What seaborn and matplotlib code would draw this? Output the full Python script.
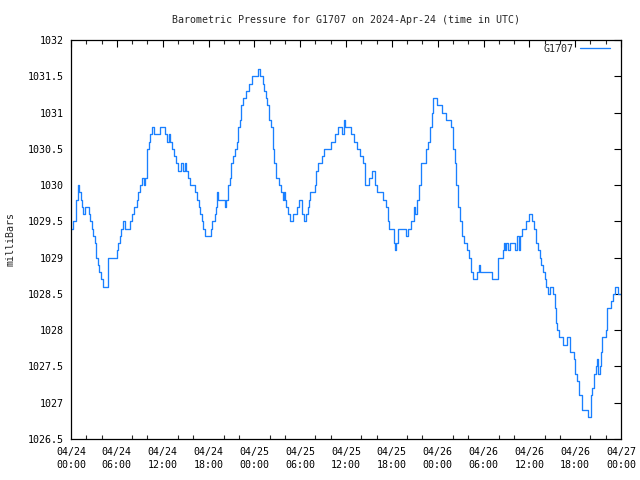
import matplotlib
matplotlib.use("Agg")
import matplotlib.pyplot as plt
import seaborn as sns
import pandas as pd
from matplotlib.ticker import MultipleLocator, FixedLocator

# hours since 2024-04-24 00:00 UTC
hours = [0.0, 0.3, 0.6, 0.96, 1.1, 1.27, 1.45, 1.6, 1.8, 2.3, 2.5, 2.7, 2.9, 3.1, 3.3, 3.5, 3.7, 3.9,
         4.2, 4.8, 4.9, 6.0, 6.2, 6.4, 6.6, 6.85, 7.1, 7.7, 8.0, 8.3, 8.6, 8.75, 9.0, 9.3, 9.6, 9.75,
         9.9, 10.0, 10.2, 10.35, 10.65, 10.8, 11.7, 12.3, 12.6, 12.8, 13.0, 13.2, 13.5, 13.8, 14.05,
         14.4, 14.6, 14.9, 15.1, 15.3, 15.6, 16.2, 16.5, 16.7, 16.9, 17.1, 17.3, 17.6, 18.3, 18.5,
         18.8, 19.0, 19.1, 19.25, 20.1, 20.3, 20.6, 20.8, 21.0, 21.25, 21.5, 21.7, 21.9, 22.1, 22.3,
         22.55, 22.9, 23.3, 23.7, 24.5, 24.8, 25.1, 25.3, 25.5, 25.7, 25.95, 26.2, 26.4, 26.5, 26.6,
         26.8, 26.9, 27.2, 27.45, 27.7, 27.9, 28.05, 28.2, 28.4, 28.7, 29.1, 29.6, 29.9, 30.3, 30.5,
         30.8, 31.0, 31.15, 31.35, 31.9, 32.1, 32.35, 32.9, 33.1, 34.1, 34.5, 34.9, 35.5, 35.7, 35.9,
         36.6, 37.1, 37.5, 37.8, 38.2, 38.45, 38.55, 39.0, 39.4, 39.85, 40.05, 40.9, 41.2, 41.45,
         41.65, 42.3, 42.45, 42.6, 42.8, 43.8, 44.1, 44.5, 44.9, 45.05, 45.3, 45.55, 45.8, 46.5,
         46.7, 46.95, 47.2, 47.4, 47.9, 48.6, 49.1, 49.7, 49.95, 50.25, 50.45, 50.7, 50.95, 51.2,
         51.5, 51.8, 52.1, 52.3, 52.6, 53.1, 53.4, 53.55, 55.1, 55.95, 56.5, 56.65, 56.85, 57.0,
         57.2, 57.5, 58.1, 58.45, 58.65, 58.8, 59.1, 59.5, 59.9, 60.4, 60.6, 60.85, 61.1, 61.35,
         61.5, 61.75, 62.0, 62.2, 62.5, 62.7, 63.15, 63.3, 63.45, 63.6, 63.85, 64.4, 64.95, 65.35,
         65.85, 66.0, 66.2, 66.45, 66.85, 67.65, 68.1, 68.25, 68.45, 68.7, 68.9, 69.05, 69.25, 69.4,
         69.55, 70.0, 70.2, 70.75, 70.95, 71.25, 71.55, 72.0]
pressure = [1029.4, 1029.5, 1029.8, 1030.0, 1029.9, 1029.8, 1029.7, 1029.6, 1029.7, 1029.6, 1029.5,
            1029.4, 1029.3, 1029.2, 1029.0, 1028.9, 1028.8, 1028.7, 1028.6, 1028.8, 1029.0, 1029.1,
            1029.2, 1029.3, 1029.4, 1029.5, 1029.4, 1029.5, 1029.6, 1029.7, 1029.8, 1029.9, 1030.0,
            1030.1, 1030.0, 1030.1, 1030.3, 1030.5, 1030.6, 1030.7, 1030.8, 1030.7, 1030.8, 1030.7,
            1030.6, 1030.7, 1030.6, 1030.5, 1030.4, 1030.3, 1030.2, 1030.3, 1030.2, 1030.3, 1030.2,
            1030.1, 1030.0, 1029.9, 1029.8, 1029.7, 1029.6, 1029.5, 1029.4, 1029.3, 1029.4, 1029.5,
            1029.6, 1029.7, 1029.9, 1029.8, 1029.7, 1029.8, 1030.0, 1030.1, 1030.3, 1030.4, 1030.5,
            1030.6, 1030.8, 1030.9, 1031.1, 1031.2, 1031.3, 1031.4, 1031.5, 1031.6, 1031.5, 1031.4,
            1031.3, 1031.2, 1031.1, 1030.9, 1030.8, 1030.6, 1030.5, 1030.3, 1030.2, 1030.1, 1030.0,
            1029.9, 1029.8, 1029.9, 1029.8, 1029.7, 1029.6, 1029.5, 1029.6, 1029.7, 1029.8, 1029.6,
            1029.5, 1029.6, 1029.7, 1029.8, 1029.9, 1030.0, 1030.2, 1030.3, 1030.4, 1030.5, 1030.6,
            1030.7, 1030.8, 1030.7, 1030.9, 1030.8, 1030.7, 1030.6, 1030.5, 1030.4, 1030.3, 1030.2,
            1030.0, 1030.1, 1030.2, 1030.0, 1029.9, 1029.8, 1029.7, 1029.5, 1029.4, 1029.2, 1029.1,
            1029.2, 1029.4, 1029.3, 1029.4, 1029.5, 1029.7, 1029.6, 1029.8, 1030.0, 1030.3, 1030.5,
            1030.6, 1030.8, 1031.0, 1031.2, 1031.1, 1031.0, 1030.9, 1030.8, 1030.5, 1030.3, 1030.0,
            1029.7, 1029.5, 1029.3, 1029.2, 1029.1, 1029.0, 1028.8, 1028.7, 1028.8, 1028.9, 1028.8,
            1028.7, 1029.0, 1029.1, 1029.2, 1029.1, 1029.2, 1029.1, 1029.2, 1029.1, 1029.3, 1029.1,
            1029.3, 1029.4, 1029.5, 1029.6, 1029.5, 1029.4, 1029.2, 1029.1, 1029.0, 1028.9, 1028.8,
            1028.7, 1028.6, 1028.5, 1028.6, 1028.5, 1028.3, 1028.1, 1028.0, 1027.9, 1027.8, 1027.9,
            1027.7, 1027.6, 1027.4, 1027.3, 1027.1, 1026.9, 1026.8, 1027.1, 1027.2, 1027.4, 1027.5,
            1027.6, 1027.4, 1027.5, 1027.7, 1027.9, 1028.0, 1028.3, 1028.4, 1028.5, 1028.6, 1028.5,
            1028.5]

x_tick_hours = [0, 6, 12, 18, 24, 30, 36, 42, 48, 54, 60, 66, 72]
x_tick_labels = ["04/24\n00:00", "04/24\n06:00", "04/24\n12:00", "04/24\n18:00",
                 "04/25\n00:00", "04/25\n06:00", "04/25\n12:00", "04/25\n18:00",
                 "04/26\n00:00", "04/26\n06:00", "04/26\n12:00", "04/26\n18:00",
                 "04/27\n00:00"]
y_ticks = [1026.5, 1027, 1027.5, 1028, 1028.5, 1029, 1029.5, 1030, 1030.5, 1031, 1031.5, 1032]
y_tick_labels = ["1026.5", "1027", "1027.5", "1028", "1028.5", "1029", "1029.5", "1030",
                 "1030.5", "1031", "1031.5", "1032"]

df = pd.DataFrame({"hours": hours, "pressure": pressure})

sns.set_style("white")
plt.rcParams["font.family"] = ["DejaVu Sans Mono"]

fig = plt.figure(figsize=(6.4, 4.8), dpi=100)
ax = fig.add_axes([71/640, 1 - 439/480, 550/640, 399/480])

sns.lineplot(data=df, x="hours", y="pressure", ax=ax, color="#1a80ff",
             linewidth=0.95, drawstyle="steps-post", label="G1707")

ax.set_xlim(0, 72)
ax.set_ylim(1026.5, 1032)
ax.xaxis.set_major_locator(FixedLocator(x_tick_hours))
ax.set_xticklabels(x_tick_labels, linespacing=1.45)
ax.xaxis.set_minor_locator(MultipleLocator(2))
ax.set_yticks(y_ticks)
ax.set_yticklabels(y_tick_labels)

ax.tick_params(axis="both", which="major", direction="in", length=5, width=0.8,
               labelsize=7.2, top=True, right=True, colors="black")
ax.tick_params(axis="x", which="minor", direction="in", length=3, width=0.8,
               top=True, bottom=True)
ax.tick_params(axis="x", which="major", pad=5.5)
ax.tick_params(axis="y", which="major", pad=5.5)

for s in ax.spines.values():
    s.set_visible(True)
    s.set_color("black")
    s.set_linewidth(0.9)

ax.set_xlabel("")
ax.set_ylabel("milliBars", fontsize=7.2)
ax.yaxis.set_label_coords(-0.1, 0.5)
ax.set_title("Barometric Pressure for G1707 on 2024-Apr-24 (time in UTC)", fontsize=7.2, pad=12)

ax.legend(loc="upper right", bbox_to_anchor=(0.987, 1.0), frameon=False, markerfirst=False,
          fontsize=7.2, handlelength=3.0, borderaxespad=0.0, handletextpad=0.6)

fig.savefig("out.png", dpi=100)
